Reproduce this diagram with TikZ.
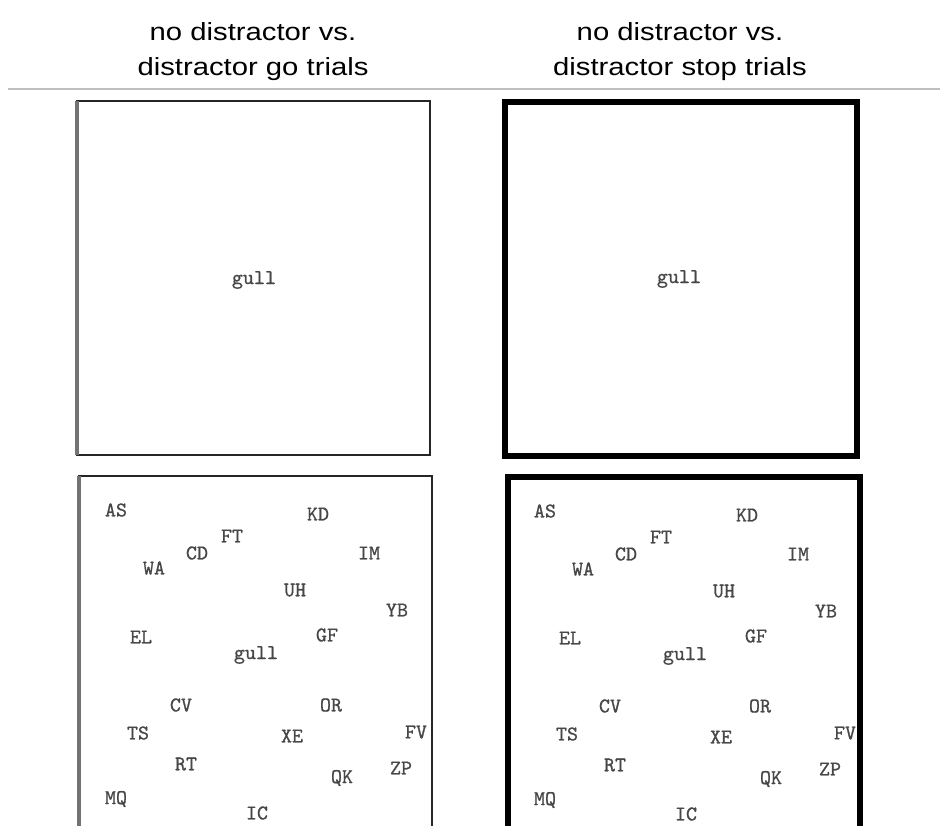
\documentclass[tikz,border=0pt]{standalone}
\usepackage{fontspec}
\setmainfont{Liberation Sans}
\newfontfamily\headfont[FakeStretch=1.18]{Liberation Sans}
\newfontfamily\stimfont[FakeBold=0.8]{Latin Modern Mono}
\tikzset{
  head/.style={font=\headfont\fontsize{12.4}{17.5}\selectfont,align=center,inner sep=0pt,text=black},
  stim/.style={font=\stimfont\fontsize{10.5}{12}\selectfont,text=black!72,inner sep=0pt},
  thinframe/.style={draw=black!85,line width=1pt},
  thickframe/.style={draw=black,line width=3.2pt}
}
\begin{document}
\begin{tikzpicture}[x=0.5pt,y=-0.5pt]
\useasboundingbox (0,0) rectangle (940,825);
\clip (0,0) rectangle (940,825);
\node[head] (titlego) at (253,52) {no distractor vs.\\distractor go trials};
\node[head] (titlestop) at (680,52) {no distractor vs.\\distractor stop trials};
\draw[black!25,line width=0.6pt] (8,89) -- (940,89);
\draw[thinframe] (77,101) rectangle (430,455);
\draw[black!55,line width=2pt] (77,101) -- (77,455);
\draw[thickframe] (505,102) rectangle (857,456);
\node[stim] (gullgo) at (254,280) {gull};
\node[stim] (gullstop) at (679,279) {gull};
\draw[thinframe] (79,476) rectangle (432,834);
\draw[black!55,line width=2pt] (79,476) -- (79,834);
\draw[thickframe] (508,477) rectangle (860,834);
\foreach \col/\ox/\oy in {go/79/476, stop/508/477}{
  \foreach \w/\dx/\dy in {AS/37/34, KD/239/38, FT/153/60, CD/118/77, IM/290/77,
    WA/75/92, UH/216/114, YB/318/134, EL/62/161, GF/248/159, gull/177/179,
    CV/102/229, OR/252/229, TS/59/257, XE/213/260, FV/337/256, RT/107/288,
    ZP/322/292, QK/263/302, MQ/37/323, IC/178/337}{
    \node[stim] (\col-\w) at (\ox+\dx,\oy+\dy) {\w};
  }
}
\end{tikzpicture}
\end{document}
